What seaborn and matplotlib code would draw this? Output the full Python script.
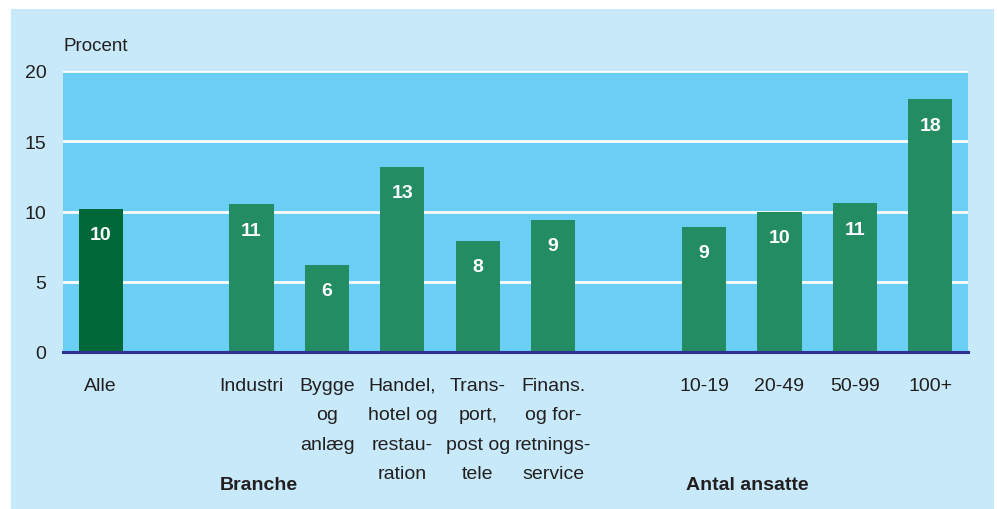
import numpy as np
import pandas as pd
import matplotlib
matplotlib.use("Agg")
import matplotlib.pyplot as plt
import seaborn as sns
from matplotlib.patches import Rectangle
from matplotlib.transforms import blended_transform_factory

categories = ["Alle", "Industri", "Bygge\nog\nanlæg", "Handel,\nhotel og\nrestau-\nration",
              "Trans-\nport,\npost og\ntele", "Finans.\nog for-\nretnings-\nservice",
              "10-19", "20-49", "50-99", "100+"]
positions = [0, 2, 3, 4, 5, 6, 8, 9, 10, 11]
values = [10.2, 10.5, 6.2, 13.2, 7.9, 9.4, 8.9, 10.0, 10.6, 18.0]
value_labels = ["10", "11", "6", "13", "8", "9", "9", "10", "11", "18"]
groups = ["Alle", "Branche", "Branche", "Branche", "Branche", "Branche",
          "Antal ansatte", "Antal ansatte", "Antal ansatte", "Antal ansatte"]
group_titles = ["Branche", "Antal ansatte"]
group_title_x = [2.1, 8.58]
yticks = [0, 5, 10, 15, 20]

sns.set_style("white")
plt.rcParams["font.family"] = ["Liberation Sans", "DejaVu Sans"]

outer_bg = "#c7e9f9"
plot_bg = "#6acef5"
palette = {"Alle": "#006838", "Branche": "#238c63", "Antal ansatte": "#238c63"}
text_col = "#231f20"

df = pd.DataFrame({"pos": positions, "value": values, "group": groups})

fig = plt.figure(figsize=(9.97, 5.10), dpi=100)
fig.patches.append(Rectangle((11 / 997, 0), (994 - 11) / 997, 500 / 510,
                             transform=fig.transFigure, facecolor=outer_bg,
                             edgecolor="none", zorder=-1))
ax = fig.add_axes([63 / 997, 1 - 353 / 510, (968 - 63) / 997, (353 - 72) / 510])
ax.set_facecolor(plot_bg)

sns.barplot(data=df, x="pos", y="value", hue="group", palette=palette,
            native_scale=True, dodge=False, width=0.585, saturation=1,
            linewidth=0, legend=False, ax=ax, zorder=3)

ax.set_xlim(-0.5, 11.5)
ax.set_ylim(0, 20)
for y in yticks[1:]:
    ax.axhline(y, color="white", lw=2, zorder=1)

for s in ["top", "right", "left"]:
    ax.spines[s].set_visible(False)
ax.spines["bottom"].set_color("#2e3192")
ax.spines["bottom"].set_linewidth(2.2)
ax.spines["bottom"].set_zorder(5)

ax.set_yticks(yticks)
ax.set_yticklabels([str(t) for t in yticks], fontsize=14, color=text_col)
ax.tick_params(axis="y", length=0, pad=12)
ax.set_xticks(positions)
ax.set_xticklabels(categories, fontsize=14, color=text_col, linespacing=1.95, va="top")
ax.tick_params(axis="x", length=0, pad=18)
ax.set_xlabel("")
ax.set_ylabel("")

for p, v, lab in zip(positions, values, value_labels):
    ax.text(p, v - 1.85, lab, ha="center", va="center", color="white",
            fontsize=14, fontweight="bold", zorder=6)

ax.text(0, 1.09, "Procent", transform=ax.transAxes, ha="left", va="center",
        fontsize=13.5, color=text_col)

trans = blended_transform_factory(ax.transData, fig.transFigure)
for gx, gt in zip(group_title_x, group_titles):
    ax.text(gx, 1 - 486 / 510, gt, transform=trans, ha="center", va="center",
            fontsize=14, fontweight="bold", color=text_col)

fig.savefig("out.png", dpi=100, facecolor="white")
